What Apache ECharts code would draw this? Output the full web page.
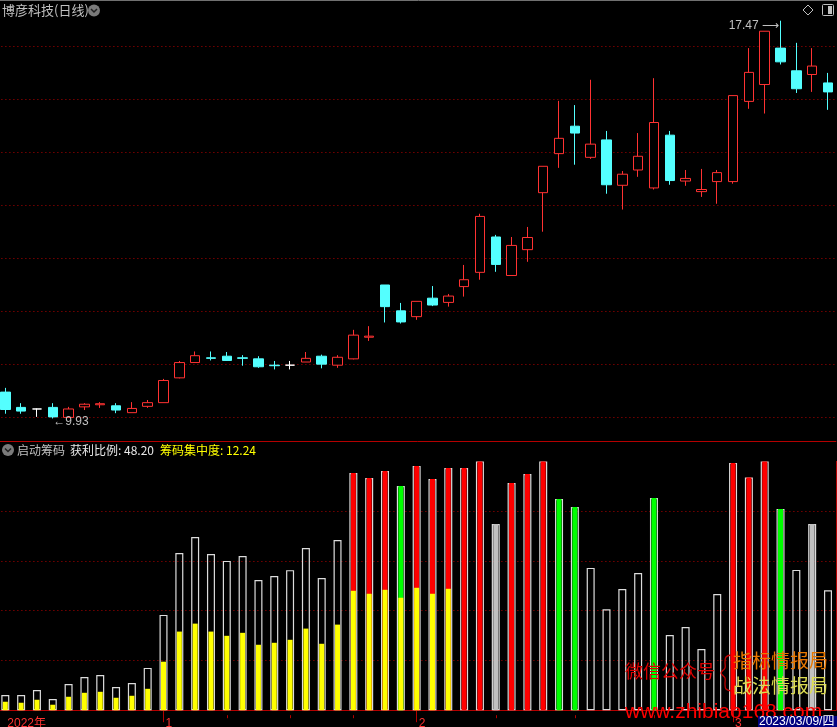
<!DOCTYPE html>
<html><head><meta charset="utf-8">
<script src="https://cdn.jsdelivr.net/npm/echarts@6/dist/echarts.min.js"></script>
<style>html,body{margin:0;padding:0;background:#000;overflow:hidden}#c{width:837px;height:727px}</style>
</head><body><div id="c"></div>
<script>
// ---------------- data ----------------
const stockTitle = '博彦科技(日线)';
const indicatorName = '启动筹码';
const dates = [
 '2022-12-19','2022-12-20','2022-12-21','2022-12-22','2022-12-23','2022-12-26','2022-12-27','2022-12-28','2022-12-29','2022-12-30',
 '2023-01-03','2023-01-04','2023-01-05','2023-01-06','2023-01-09','2023-01-10','2023-01-11','2023-01-12','2023-01-13',
 '2023-01-16','2023-01-17','2023-01-18','2023-01-19','2023-01-20','2023-01-30','2023-01-31',
 '2023-02-01','2023-02-02','2023-02-03','2023-02-06','2023-02-07','2023-02-08','2023-02-09','2023-02-10',
 '2023-02-13','2023-02-14','2023-02-15','2023-02-16','2023-02-17','2023-02-20','2023-02-21','2023-02-22','2023-02-23','2023-02-24',
 '2023-02-27','2023-02-28','2023-03-01','2023-03-02','2023-03-03','2023-03-06','2023-03-07','2023-03-08','2023-03-09'];
const opens  = [10.43,10.14,10.11,10.14,9.95,10.15,10.19,10.17,10.04,10.16,10.23,10.70,10.99,11.08,11.11,11.08,11.06,10.94,10.94,11.00,11.11,10.94,11.06,11.47,12.46,11.97,11.86,12.21,12.13,12.43,12.70,13.37,12.64,13.13,14.21,14.95,15.47,14.88,15.21,14.35,14.64,14.30,15.30,14.43,14.23,14.42,14.42,15.94,16.26,16.95,16.52,16.45,16.29];
const closes = [10.10,10.07,10.11,9.96,10.11,10.20,10.21,10.09,10.12,10.23,10.65,10.99,11.12,11.07,11.03,11.07,10.91,10.93,10.94,11.07,10.96,11.09,11.51,11.49,12.05,11.76,12.15,12.08,12.25,12.56,13.76,12.85,13.21,13.36,14.71,15.24,15.34,15.13,14.36,14.56,14.90,15.54,14.44,14.48,14.27,14.59,16.05,16.49,17.27,16.69,16.18,16.61,16.12];
const lows   = [10.02,10.02,9.96,9.93,9.95,10.09,10.13,10.03,10.04,10.13,10.23,10.69,10.99,11.03,11.02,10.93,10.89,10.86,10.86,11.00,10.88,10.89,11.05,11.40,11.75,11.73,11.80,12.06,12.05,12.24,12.56,12.71,12.64,12.90,13.47,14.68,14.74,14.85,14.19,13.89,14.51,14.27,14.36,14.34,14.13,14.00,14.38,15.80,15.71,16.64,16.10,16.12,15.78];
const highs  = [10.51,10.22,10.12,10.22,10.15,10.22,10.24,10.22,10.24,10.28,10.68,11.02,11.20,11.20,11.19,11.13,11.11,11.02,11.02,11.19,11.14,11.13,11.61,11.68,12.46,12.12,12.15,12.44,12.29,12.84,13.81,13.41,13.37,13.56,14.71,15.95,15.87,16.35,15.38,14.62,15.34,16.38,15.38,14.64,14.66,14.64,16.05,16.95,17.27,17.47,17.05,16.95,16.48];
// 获利比例 (outline bars)
const profitRatio = [6.1,6.1,8.1,4.5,10.5,13.3,14.1,9.3,10.9,17.0,38.3,63.2,69.6,62.8,60.0,62.0,52.3,53.9,56.3,65.2,53.1,68.4,95.3,93.3,96.1,90.1,98.2,92.9,97.3,97.3,100,74.8,91.3,94.9,100,84.9,81.7,57.2,40.6,48.7,55.1,85.3,30.2,33.4,24.6,46.7,99.4,93.5,100,80.9,56.4,74.8,48.2];
// yellow bars
const chipLevel = [3.4,3.0,4.2,2.2,5.4,7.0,7.4,5.0,5.8,8.6,19.5,31.6,34.8,31.6,29.9,31.1,26.3,27.1,28.3,32.8,26.7,34.4,48.0,46.8,48.4,45.2,49.2,46.8,48.8,
 null,null,null,null,null,null,null,null,null,null,null,null,null,null,null,null,null,null,null,null,null,null,null,null];
// signal state of each bar: 0 none, 1 red, 2 green, 3 grey
const signalState = [0,0,0,0,0,0,0,0,0,0,0,0,0,0,0,0,0,0,0,0,0,0,1,1,1,2,1,1,1,1,1,3,1,1,1,2,2,0,0,0,0,2,0,0,0,0,1,1,1,2,0,3,0];
const concentrationLast = 12.24;
const minorTickDates = ['2023-01-09','2023-01-13','2023-01-19','2023-02-08','2023-02-15','2023-02-22','2023-03-08'];

// ---------------- layout ----------------
const LEFT = -2.6, WIDTH = 838.5;
const PRICE_MAX = 17.862, PRICE_MIN = 9.503;
const RED = '#ff3232', CYAN = '#54ffff', GRID = '#b00000', AXIS = '#b40000';
const FONT = '"Liberation Sans", "Noto Sans CJK SC", sans-serif';
const CJK = '"Noto Sans CJK SC", sans-serif';

const monthOf = d => +d.slice(5, 7);
const isMonthStart = i => i > 0 && monthOf(dates[i]) !== monthOf(dates[i - 1]);

const candleData = dates.map((d, i) => {
  const it = { value: [opens[i], closes[i], lows[i], highs[i]] };
  if (opens[i] === closes[i]) it.itemStyle = { color: '#fff', color0: '#fff', borderColor: '#fff', borderColor0: '#fff', borderColorDoji: '#fff' };
  return it;
});
let hiI = 0, loI = 0;
highs.forEach((v, i) => { if (v > highs[hiI]) hiI = i; });
lows.forEach((v, i) => { if (v < lows[loI]) loI = i; });

const sigColors = { 1: '#ff0000', 2: '#00ff00', 3: '#c0c0c0' };
const fillData = profitRatio.map((v, i) => signalState[i] ? { value: v, itemStyle: { color: sigColors[signalState[i]] } } : '-');
const yellowData = chipLevel.map(v => v == null ? '-' : v);

const dotted = { color: GRID, width: 1, type: [1, 3] };
const hid = { show: false };

const chart = echarts.init(document.getElementById('c'), null, { renderer: 'canvas' });
const option = {
  backgroundColor: '#000',
  animation: false,
  grid: [
    { left: LEFT, width: WIDTH, top: 0, height: 441, outerBoundsMode: 'none' },
    { left: LEFT, width: WIDTH, top: 46.3, height: 371, outerBoundsMode: 'none' },
    { left: LEFT, width: WIDTH, top: 461.4, height: 248.8, outerBoundsMode: 'none' },
    { left: LEFT, width: WIDTH, top: 511.2, height: 149.2, outerBoundsMode: 'none' }
  ],
  xAxis: [
    { gridIndex: 0, type: 'category', data: dates, boundaryGap: true, axisLine: { show: true, lineStyle: { color: AXIS, width: 1 } }, axisTick: hid, axisLabel: hid, splitLine: hid },
    { gridIndex: 1, type: 'value', min: 0, max: 1, show: false },
    { gridIndex: 2, type: 'category', data: dates, position: 'bottom', offset: 5, boundaryGap: true,
      axisLine: { show: true, lineStyle: { color: AXIS, width: 1 } },
      axisTick: { show: true, alignWithLabel: true, interval: i => isMonthStart(i), length: 12, lineStyle: { color: AXIS } },
      axisLabel: { show: true, interval: i => i === 0 || isMonthStart(i), align: 'left', margin: 2, padding: [0, 0, 0, 2],
        color: RED, fontSize: 12, fontFamily: FONT,
        formatter: (v, i) => i === 0 ? v.slice(0, 4) + '年' : String(monthOf(v)) },
      splitLine: hid },
    { gridIndex: 2, type: 'category', data: dates, position: 'bottom', offset: 5, boundaryGap: true,
      axisLine: hid, axisLabel: hid, splitLine: hid,
      axisTick: { show: true, alignWithLabel: true, interval: i => minorTickDates.includes(dates[i]), length: 3, lineStyle: { color: AXIS } } },
    { gridIndex: 3, type: 'value', min: 0, max: 1, show: false }
  ],
  yAxis: [
    { gridIndex: 0, type: 'value', min: PRICE_MIN, max: PRICE_MAX, show: false, splitLine: hid },
    { gridIndex: 1, type: 'value', min: 0, max: 7, interval: 1, axisLine: hid, axisTick: hid, axisLabel: hid, splitLine: { show: true, lineStyle: dotted } },
    { gridIndex: 2, type: 'value', min: 0, max: 100, position: 'right', axisLine: { show: true, lineStyle: { color: AXIS } }, axisTick: hid, axisLabel: hid, splitLine: hid },
    { gridIndex: 3, type: 'value', min: 0, max: 3, interval: 1, axisLine: hid, axisTick: hid, axisLabel: hid, splitLine: { show: true, lineStyle: dotted } }
  ],
  series: [
    { type: 'candlestick', xAxisIndex: 0, yAxisIndex: 0, data: candleData, barWidth: 10, clip: false,
      itemStyle: { color: '#000', color0: CYAN, borderColor: RED, borderColor0: CYAN, borderColorDoji: '#fff', borderWidth: 1 },
      markPoint: { symbol: 'circle', symbolSize: 1, itemStyle: { color: 'transparent' }, silent: true,
        data: [
          { coord: [hiI, highs[hiI]], label: { show: true, position: 'left', distance: 1, offset: [0, 5], formatter: highs[hiI].toFixed(2) + ' ⟶', color: '#c0c0c0', fontSize: 12, fontFamily: FONT } },
          { coord: [loI, lows[loI]], label: { show: true, position: 'right', distance: 0, offset: [0, 3], formatter: '←' + lows[loI].toFixed(2), color: '#c0c0c0', fontSize: 12, fontFamily: FONT } }
        ] } },
    { type: 'bar', xAxisIndex: 2, yAxisIndex: 2, data: profitRatio, barWidth: 8,
      itemStyle: { color: 'transparent', borderColor: '#dcdcdc', borderWidth: 1.2 } },
    { type: 'bar', xAxisIndex: 3, yAxisIndex: 2, data: fillData, barWidth: 5, barGap: '-100%' },
    { type: 'bar', xAxisIndex: 3, yAxisIndex: 2, data: yellowData, barWidth: 5, barGap: '-100%', itemStyle: { color: '#ffff00' } }
  ],
  graphic: [
    { type: 'line', shape: { x1: 0, y1: 0.5, x2: 837, y2: 0.5 }, style: { stroke: '#707070', lineWidth: 1 }, z: 100 },
    { type: 'text', x: 2, y: 10, style: { text: stockTitle, font: '13px ' + CJK, fill: '#c0c0c0', verticalAlign: 'middle' }, z: 100 },
    { type: 'circle', shape: { cx: 94, cy: 10.5, r: 6 }, style: { fill: '#7a7a7a' }, z: 100 },
    { type: 'polyline', shape: { points: [[91, 9], [94, 12], [97, 9]] }, style: { stroke: '#202020', lineWidth: 1.5, fill: null }, z: 101 },
    { type: 'polygon', shape: { points: [[808, 5], [813, 10], [808, 15], [803, 10]] }, style: { stroke: '#c0c0c0', fill: null, lineWidth: 1 }, z: 100 },
    { type: 'rect', shape: { x: 822.5, y: 4.5, width: 11, height: 11, r: 1 }, style: { stroke: '#c0c0c0', fill: null, lineWidth: 1 }, z: 100 },
    { type: 'rect', shape: { x: 828, y: 6, width: 4, height: 8 }, style: { fill: '#c0c0c0' }, z: 100 },
    { type: 'circle', shape: { cx: 8, cy: 450, r: 6 }, style: { fill: '#7a7a7a' }, z: 100 },
    { type: 'polyline', shape: { points: [[5, 448.5], [8, 451.5], [11, 448.5]] }, style: { stroke: '#202020', lineWidth: 1.5, fill: null }, z: 101 },
    { type: 'text', x: 17, y: 450, style: { text: indicatorName, font: '12px ' + CJK, fill: '#c0c0c0', verticalAlign: 'middle' }, z: 100 },
    { type: 'text', x: 70, y: 450, style: { text: '获利比例: ' + profitRatio[profitRatio.length - 1].toFixed(2), font: '12px ' + CJK, fill: '#e8e8e8', verticalAlign: 'middle' }, z: 100 },
    { type: 'text', x: 160, y: 450, style: { text: '筹码集中度: ' + concentrationLast.toFixed(2), font: '12px ' + CJK, fill: '#ffff00', verticalAlign: 'middle' }, z: 100 },
    { type: 'text', x: 625, y: 671, style: { text: '微信公众号', font: '18px ' + CJK, fill: '#e00000', verticalAlign: 'middle' }, z: 100 },
    { type: 'polyline', shape: { smooth: 0.4, points: [[731, 655], [726, 657], [725, 662], [725, 668], [721, 673], [725, 678], [725, 684], [726, 689], [731, 691]] }, style: { stroke: '#c00000', fill: null, lineWidth: 1.3 }, z: 100 },
    { type: 'text', x: 733, y: 661, style: { text: '指标情报局', font: '19px ' + CJK, fill: '#e87800', verticalAlign: 'middle' }, z: 100 },
    { type: 'text', x: 733, y: 686, style: { text: '战法情报局', font: '19px ' + CJK, fill: '#dcdc50', verticalAlign: 'middle' }, z: 100 },
    { type: 'text', x: 625, y: 712, style: { text: 'www.zhibiao168.com', font: '21px "Liberation Sans"', fill: '#ff0000', verticalAlign: 'middle' }, z: 100 },
    { type: 'rect', shape: { x: 758, y: 716, width: 79, height: 11 }, style: { fill: '#000080' }, z: 100 },
    { type: 'text', x: 759, y: 722, style: { text: dates[dates.length - 1].replace(/-/g, '/') + '/四', font: '12px ' + FONT, fill: '#ffffff', verticalAlign: 'middle' }, z: 101 }
  ]
};
chart.setOption(option);
</script></body></html>
